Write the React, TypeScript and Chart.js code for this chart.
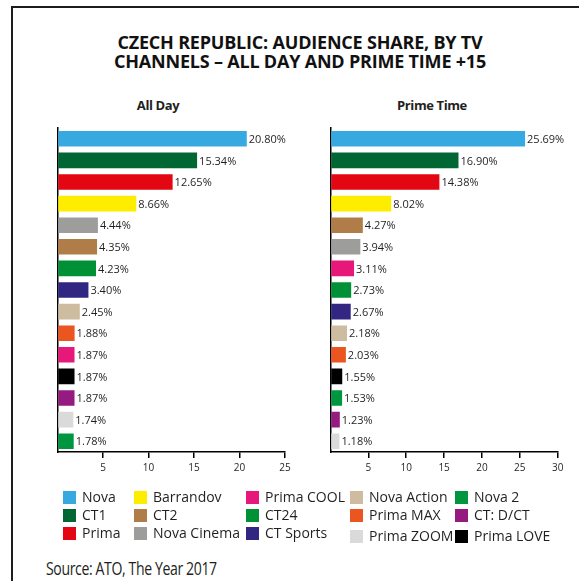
import React, { useEffect, useRef } from "react";
import { Chart, registerables } from "chart.js";
Chart.register(...registerables);

const allDayChannels = ["Nova", "CT1", "Prima", "Barrandov", "Nova Cinema", "CT2", "CT24", "CT Sports", "Nova Action", "Prima MAX", "Prima COOL", "Prima LOVE", "CT: D/CT", "Prima ZOOM", "Nova 2"];
const allDayValues = [20.8, 15.34, 12.65, 8.66, 4.44, 4.35, 4.23, 3.4, 2.45, 1.88, 1.87, 1.87, 1.87, 1.74, 1.78];
const primeChannels = ["Nova", "CT1", "Prima", "Barrandov", "CT2", "Nova Cinema", "Prima COOL", "CT24", "CT Sports", "Nova Action", "Prima MAX", "Prima LOVE", "Nova 2", "CT: D/CT", "Prima ZOOM"];
const primeValues = [25.69, 16.9, 14.38, 8.02, 4.27, 3.94, 3.11, 2.73, 2.67, 2.18, 2.03, 1.55, 1.53, 1.23, 1.18];
const allDayMax = 25;
const primeMax = 30;
const tickStep = 5;
const legendOrder = ["Nova", "CT1", "Prima", "Barrandov", "CT2", "Nova Cinema", "Prima COOL", "CT24", "CT Sports", "Nova Action", "Prima MAX", "Prima ZOOM", "Nova 2", "CT: D/CT", "Prima LOVE"];
const channelColors: Record<string, string> = {
  "Nova": "#36a9e1",
  "CT1": "#006633",
  "Prima": "#e30613",
  "Barrandov": "#ffed00",
  "CT2": "#b07d48",
  "Nova Cinema": "#9d9d9c",
  "Prima COOL": "#e6197a",
  "CT24": "#009036",
  "CT Sports": "#312783",
  "Nova Action": "#cdbca0",
  "Prima MAX": "#ea5520",
  "Prima ZOOM": "#dadada",
  "Nova 2": "#009640",
  "CT: D/CT": "#951b81",
  "Prima LOVE": "#000000",
};

const TEXT = "#231f20";
const FONT = "'Open Sans', 'Noto Sans', sans-serif";

const valueLabels = {
  id: "valueLabels",
  afterDatasetsDraw(chart: any) {
    const ctx = chart.ctx;
    const meta = chart.getDatasetMeta(0);
    const data = chart.data.datasets[0].data as number[];
    ctx.save();
    ctx.font = `11px ${FONT}`;
    ctx.fillStyle = TEXT;
    ctx.textBaseline = "middle";
    ctx.textAlign = "left";
    meta.data.forEach((bar: any, i: number) => {
      ctx.fillText(data[i].toFixed(2) + "%", bar.x + 2, bar.y + 1);
    });
    ctx.restore();
  },
};

type BarProps = {
  labels: string[];
  values: number[];
  max: number;
  left: number;
  width: number;
  padLeft: number;
  padRight: number;
};

function BarPanel({ labels, values, max, left, width, padLeft, padRight }: BarProps) {
  const ref = useRef<HTMLCanvasElement>(null);
  useEffect(() => {
    if (!ref.current) return;
    const chart = new Chart(ref.current, {
      type: "bar",
      data: {
        labels,
        datasets: [
          {
            data: values,
            backgroundColor: labels.map((l) => channelColors[l]),
            categoryPercentage: 0.72,
            barPercentage: 1,
            borderWidth: 0,
          },
        ],
      },
      options: {
        indexAxis: "y",
        animation: false,
        responsive: false,
        maintainAspectRatio: false,
        layout: { padding: { left: padLeft, right: padRight, top: 128, bottom: 10 } },
        plugins: { legend: { display: false }, tooltip: { enabled: false }, title: { display: false } },
        scales: {
          y: {
            type: "category",
            ticks: { display: false },
            grid: { display: false, drawTicks: false },
            border: { display: true, color: "#000", width: 1.5 },
            afterFit: (s: any) => {
              s.width = 0;
            },
          },
          x: {
            type: "linear",
            min: 0,
            max,
            ticks: {
              stepSize: tickStep,
              color: TEXT,
              font: { family: FONT, size: 10 },
              padding: 4,
              maxRotation: 0,
              callback: (v: any) => (v === 0 ? "" : String(v)),
            },
            grid: {
              drawOnChartArea: false,
              drawTicks: true,
              tickLength: 6,
              lineWidth: 1.5,
              color: (c: any) => (c.tick && c.tick.value === 0 ? "rgba(0,0,0,0)" : "#000"),
            },
            border: { display: true, color: "#000", width: 1.5 },
            afterFit: (s: any) => {
              s.height = 28;
            },
          },
        },
      },
      plugins: [valueLabels],
    });
    return () => chart.destroy();
  }, []);
  return (
    <canvas
      ref={ref}
      width={width}
      height={490}
      style={{ position: "absolute", left, top: 0, width, height: 490 }}
    />
  );
}

export default function App() {
  const cols = [0, 1, 2, 3, 4];
  const colX = [63, 134, 246, 350, 455];
  const rowY = [489, 507, 525];
  return (
    <div
      style={{
        position: "fixed",
        left: 0,
        top: 0,
        width: 579,
        height: 581,
        overflow: "hidden",
        background: "#fff",
        fontFamily: FONT,
        color: TEXT,
      }}
    >
      <div
        style={{
          position: "absolute",
          left: 11,
          top: 6,
          width: 700,
          height: 700,
          borderLeft: "2px solid #1d1d1b",
          borderTop: "2px solid #1d1d1b",
        }}
      />
      <div
        style={{
          position: "absolute",
          left: 0,
          width: 600,
          top: 33,
          textAlign: "center",
          fontWeight: 700,
          fontSize: 18,
          lineHeight: "19px",
          letterSpacing: -0.2,
          color: "#111",
        }}
      >
        CZECH REPUBLIC: AUDIENCE SHARE, BY TV
        <br />
        CHANNELS – ALL DAY AND PRIME TIME +15
      </div>
      <div style={{ position: "absolute", left: 108, width: 100, top: 96, textAlign: "center", fontWeight: 700, fontSize: 13, letterSpacing: -0.4 }}>
        All Day
      </div>
      <div style={{ position: "absolute", left: 382, width: 100, top: 96, textAlign: "center", fontWeight: 700, fontSize: 13, letterSpacing: -0.4 }}>
        Prime Time
      </div>
      <BarPanel labels={allDayChannels} values={allDayValues} max={allDayMax} left={0} width={300} padLeft={57.5} padRight={15} />
      <BarPanel labels={primeChannels} values={primeValues} max={primeMax} left={300} width={279} padLeft={30.5} padRight={21.3} />
      {cols.map((c) =>
        legendOrder.slice(c * 3, c * 3 + 3).map((name, r) => (
          <div
            key={name}
            style={{
              position: "absolute",
              left: colX[c],
              top: rowY[r] + (c >= 3 && r === 2 ? 3 : 0),
              display: "flex",
              alignItems: "center",
              fontSize: 14,
              lineHeight: "16px",
              whiteSpace: "nowrap",
            }}
          >
            <span style={{ display: "inline-block", width: 13, height: 13, background: channelColors[name], marginRight: 6 }} />
            <span>{name}</span>
          </div>
        ))
      )}
      <div
        style={{
          position: "absolute",
          left: 46,
          top: 556,
          fontSize: 19,
          lineHeight: "24px",
          whiteSpace: "nowrap",
          letterSpacing: -0.5,
          transform: "scaleX(0.74)",
          transformOrigin: "left center",
        }}
      >
        Source: ATO, The Year 2017
      </div>
    </div>
  );
}
